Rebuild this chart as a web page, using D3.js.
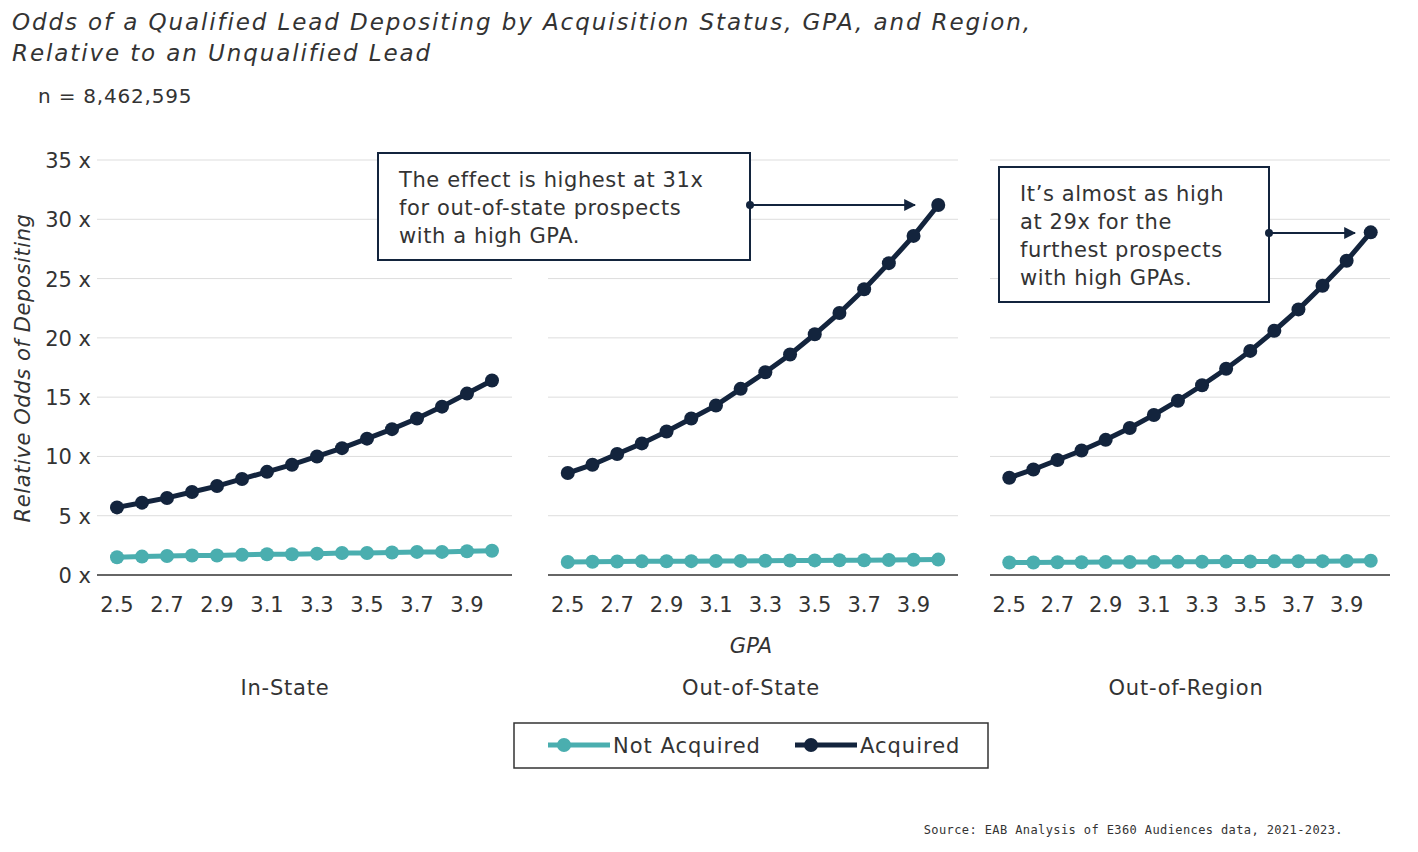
<!DOCTYPE html>
<html><head><meta charset="utf-8">
<script src="https://cdn.jsdelivr.net/npm/d3@7"></script>
<style>body{margin:0;background:#fff;font-family:"DejaVu Sans",Verdana,sans-serif;}</style>
</head><body><svg id="c" width="1418" height="852"></svg>
<script>
const gpa = [2.5,2.6,2.7,2.8,2.9,3.0,3.1,3.2,3.3,3.4,3.5,3.6,3.7,3.8,3.9,4.0];
const xTicks = [2.5,2.7,2.9,3.1,3.3,3.5,3.7,3.9];
const yTicks = [0,5,10,15,20,25,30,35];
const regions = ["In-State","Out-of-State","Out-of-Region"];
const acquired = [
  [5.7,6.1,6.5,7.0,7.5,8.1,8.7,9.3,10.0,10.7,11.5,12.3,13.2,14.2,15.3,16.4],
  [8.6,9.3,10.2,11.1,12.1,13.2,14.3,15.7,17.1,18.6,20.3,22.1,24.1,26.3,28.6,31.2],
  [8.2,8.9,9.7,10.5,11.4,12.4,13.5,14.7,16.0,17.4,18.9,20.6,22.4,24.4,26.5,28.9]
];
const notAcquired = [
  [1.5,1.55,1.6,1.65,1.65,1.7,1.75,1.75,1.8,1.85,1.85,1.9,1.95,1.95,2.0,2.05],
  [1.1,1.12,1.14,1.15,1.16,1.17,1.18,1.19,1.2,1.22,1.23,1.24,1.25,1.26,1.28,1.3],
  [1.05,1.06,1.07,1.08,1.09,1.1,1.1,1.11,1.12,1.13,1.14,1.15,1.16,1.17,1.18,1.2]
];
const notes = [null,
  ["The effect is highest at 31x","for out-of-state prospects","with a high GPA."],
  ["It’s almost as high","at 29x for the","furthest prospects","with high GPAs."]];

const svg = d3.select("#c");
const dark = "#13243d", teal = "#4aaeaf", txt = "#333";
const y = d3.scaleLinear().domain([0,35]).range([575,160]);
const panels = [[97,512],[548,958],[990,1390]];
const labelX = [285,751,1186];

svg.append("text").attr("x",12).attr("y",30).attr("font-size",23).attr("letter-spacing",1.9).attr("font-style","italic").attr("fill",txt)
  .text("Odds of a Qualified Lead Depositing by Acquisition Status, GPA, and Region,");
svg.append("text").attr("x",12).attr("y",61).attr("font-size",23).attr("letter-spacing",1.9).attr("font-style","italic").attr("fill",txt)
  .text("Relative to an Unqualified Lead");
svg.append("text").attr("x",38).attr("y",103).attr("font-size",20).attr("letter-spacing",0.8).attr("fill",txt).text("n = 8,462,595");
svg.append("text").attr("transform","translate(30,368) rotate(-90)").attr("text-anchor","middle")
  .attr("font-size",21).attr("letter-spacing",0.6).attr("font-style","italic").attr("fill",txt).text("Relative Odds of Depositing");

panels.forEach(([a,b],i)=>{
  const x = d3.scaleLinear().domain([2.42,4.08]).range([a,b]);
  const g = svg.append("g");
  g.selectAll(".gl").data(yTicks.slice(1)).join("line")
    .attr("x1",a).attr("x2",b).attr("y1",d=>y(d)).attr("y2",d=>y(d)).attr("stroke","#ddd");
  g.append("line").attr("x1",a).attr("x2",b).attr("y1",y(0)).attr("y2",y(0)).attr("stroke","#333").attr("stroke-width",1.5);
  g.selectAll(".xt").data(xTicks).join("text").attr("x",d=>x(d)).attr("y",612).attr("text-anchor","middle")
    .attr("font-size",21).attr("fill",txt).text(d=>d.toFixed(1));
  if(i===0) g.selectAll(".yt").data(yTicks).join("text").attr("x",91).attr("y",d=>y(d)+8).attr("text-anchor","end")
    .attr("font-size",21).attr("fill",txt).text(d=>d+" x");
  g.append("text").attr("x",labelX[i]).attr("y",695).attr("text-anchor","middle").attr("font-size",21).attr("letter-spacing",0.8).attr("fill",txt).text(regions[i]);
  const line = d3.line().x((d,j)=>x(gpa[j])).y(d=>y(d));
  [[notAcquired[i],teal],[acquired[i],dark]].forEach(([s,c])=>{
    g.append("path").attr("d",line(s)).attr("fill","none").attr("stroke",c).attr("stroke-width",5);
    g.selectAll(null).data(s).join("circle").attr("cx",(d,j)=>x(gpa[j])).attr("cy",d=>y(d)).attr("r",7).attr("fill",c);
  });
});
svg.append("text").attr("x",751).attr("y",653).attr("text-anchor","middle").attr("font-size",21).attr("font-style","italic").attr("fill",txt).text("GPA");

svg.append("defs").append("marker").attr("id","ar").attr("viewBox","0 -5 10 10").attr("refX",9).attr("markerWidth",6).attr("markerHeight",6)
  .attr("orient","auto").append("path").attr("d","M0,-5L10,0L0,5Z").attr("fill",dark);
function note(lines,bx,by,bw,bh,ax1,ax2,ay){
  svg.append("rect").attr("x",bx).attr("y",by).attr("width",bw).attr("height",bh).attr("fill","#fff").attr("stroke",dark).attr("stroke-width",2);
  lines.forEach((l,k)=>svg.append("text").attr("x",bx+21).attr("y",by+34+k*28).attr("font-size",21).attr("letter-spacing",0.6).attr("fill",txt).text(l));
  svg.append("circle").attr("cx",ax1).attr("cy",ay).attr("r",4).attr("fill",dark);
  svg.append("line").attr("x1",ax1).attr("x2",ax2).attr("y1",ay).attr("y2",ay).attr("stroke",dark).attr("stroke-width",2).attr("marker-end","url(#ar)");
}
note(notes[1],378,153,372,107,750,915,205);
note(notes[2],999,167,270,135,1269,1355,233);

const lg = svg.append("g");
lg.append("rect").attr("x",514).attr("y",723).attr("width",474).attr("height",45).attr("fill","#fff").attr("stroke","#333").attr("stroke-width",1.5);
[[teal,"Not Acquired",548],[dark,"Acquired",795]].forEach(([c,t,x0])=>{
  lg.append("line").attr("x1",x0).attr("x2",x0+62).attr("y1",745).attr("y2",745).attr("stroke",c).attr("stroke-width",5);
  lg.append("circle").attr("cx",x0+16).attr("cy",745).attr("r",7).attr("fill",c);
  lg.append("text").attr("x",x0+65).attr("y",753).attr("font-size",21).attr("letter-spacing",1).attr("fill",txt).text(t);
});
svg.append("text").attr("x",1343).attr("y",834).attr("text-anchor","end").attr("font-size",12).attr("letter-spacing",0.4).attr("font-family","DejaVu Sans Mono,monospace").attr("fill",txt)
  .text("Source: EAB Analysis of E360 Audiences data, 2021-2023.");
</script></body></html>
